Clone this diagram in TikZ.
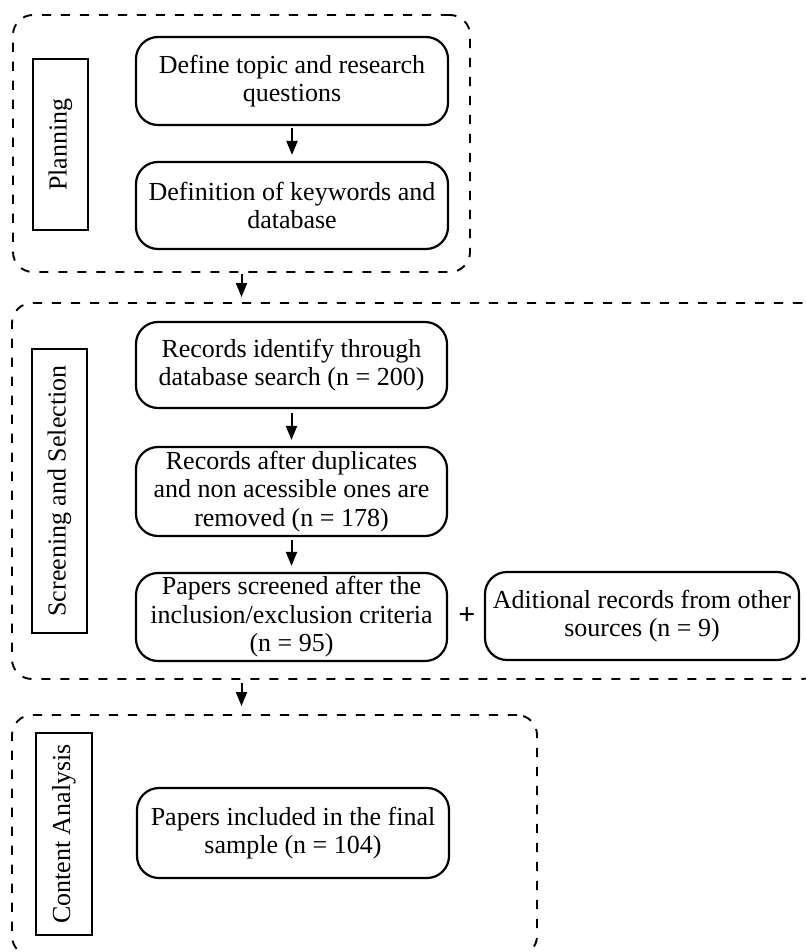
\documentclass[tikz,border=0pt]{standalone}
\usepackage{fontspec}
\setmainfont{Liberation Serif}
\usetikzlibrary{arrows.meta,calc}
\tikzset{
  x=0.5pt, y=-0.5pt,
  txt/.style={font=\fontsize{13}{14.2}\selectfont},
  box/.style={txt, draw, line width=1.1pt, rounded corners=11pt, align=center, inner sep=0pt},
  lab/.style={txt, draw, line width=1.1pt, inner sep=0pt, rotate=90},
  grp/.style={draw, line width=0.95pt, dash pattern=on 4.6pt off 4.9pt, rounded corners=10pt, inner sep=0pt},
  arr/.style={line width=1pt, -{Triangle[length=7pt,width=5.5pt]}}
}
\begin{document}
\begin{tikzpicture}
\useasboundingbox (0,0) rectangle (806,952);
% groups
\node[grp, minimum width=228.5pt, minimum height=128.5pt] (G1) at (241.5,143.5) {};
\node[grp, minimum width=405pt, minimum height=188pt] (G2) at (417,491) {};
\node[grp, minimum width=262.5pt, minimum height=120.5pt] (G3) at (274.5,835.5) {};
% labels
\node[lab, minimum width=85.5pt, minimum height=27.5pt] (plab) at (60.5,144.5) {Planning};
\node[lab, minimum width=142pt, minimum height=27.5pt] (slab) at (59.5,491) {Screening and Selection};
\node[lab, minimum width=101pt, minimum height=28pt] (clab) at (64,834) {Content Analysis};
% boxes
\node[box, minimum width=156pt, minimum height=44pt] (b1) at (292,81) {Define topic and research\\questions};
\node[box, minimum width=156pt, minimum height=43.5pt] (b2) at (292,205.5) {Definition of keywords and\\database};
\node[box, minimum width=155.5pt, minimum height=43pt] (b3) at (291.5,365) {Records identify through\\database search (n = 200)};
\node[box, minimum width=155.5pt, minimum height=44.5pt] (b4) at (291.5,491.5) {Records after duplicates\\and non acessible ones are\\removed (n = 178)};
\node[box, minimum width=155.5pt, minimum height=44pt] (b5) at (291.5,617) {Papers screened after the\\inclusion/exclusion criteria\\(n = 95)};
\node[box, minimum width=157pt, minimum height=44pt] (b6) at (642,616) {Aditional records from other\\sources (n = 9)};
\node[font=\fontsize{15}{15}\selectfont, inner sep=0pt] (plus) at (467,616) {\textbf{+}};
\node[box, minimum width=156pt, minimum height=45pt] (b7) at (293,833) {Papers included in the final\\sample (n = 104)};
% arrows
\draw[arr] ([yshift=-1pt]b1.south) -- ([yshift=3pt]b2.north);
\draw[arr] ([yshift=-0.5pt]G1.south) -- ([yshift=2.5pt]G1.south |- G2.north);
\draw[arr] ([yshift=-2pt]b3.south) -- ([yshift=3pt]b4.north);
\draw[arr] ([yshift=-1.5pt]b4.south) -- ([yshift=3pt]b5.north);
\draw[arr] ([yshift=-1.5pt]G1.south |- G2.south) -- ([yshift=4pt]G1.south |- G3.north);
\end{tikzpicture}
\end{document}
